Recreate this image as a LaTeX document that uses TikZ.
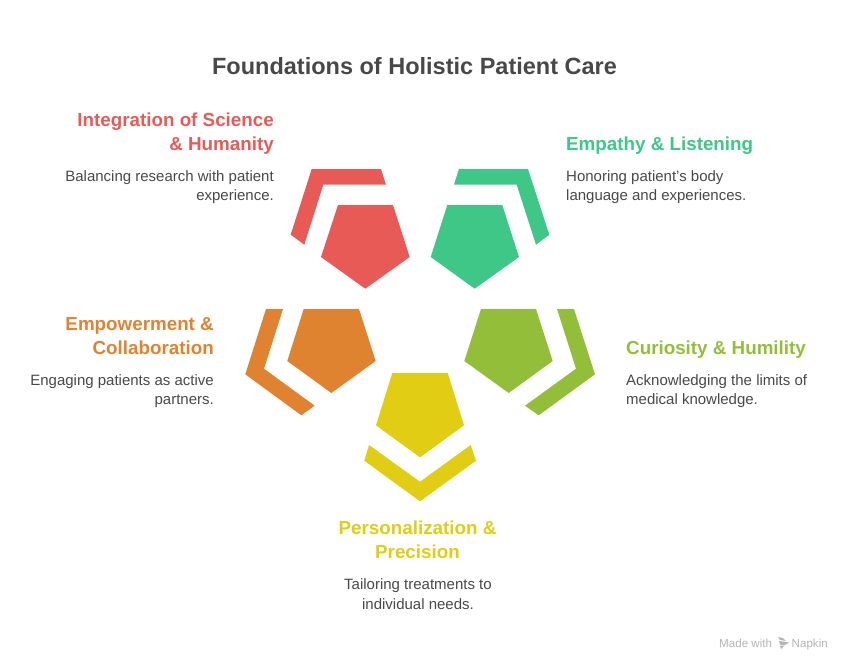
\documentclass[tikz,border=0pt]{standalone}
\usepackage{fontspec}
\setmainfont{Liberation Sans}
\usepackage{xcolor}
\definecolor{redc}{HTML}{E85A55}
\definecolor{greenc}{HTML}{3EC787}
\definecolor{orangec}{HTML}{DF8330}
\definecolor{limec}{HTML}{93BE3A}
\definecolor{yellowc}{HTML}{E0CD14}
\definecolor{textc}{HTML}{484848}
\definecolor{markc}{HTML}{B4B4B4}
\tikzset{
  head/.style={inner sep=0pt,font=\fontsize{18.8}{24}\selectfont\bfseries},
  body/.style={inner sep=0pt,text=textc,font=\fontsize{15}{19.5}\selectfont},
}
\begin{document}
\begin{tikzpicture}[x=1pt,y=-1pt]
\useasboundingbox (0,0) rectangle (852,670);
\node [inner sep=0pt,text=textc,font=\fontsize{23.5}{28}\selectfont\bfseries] (title) at (414.5,66) {Foundations of Holistic Patient Care};
% red
\fill [redc] (338,205) -- (393,205) -- (409.7,257) -- (365.3,288.7) -- (321,257) -- cycle;
\fill [redc] (311.7,169) -- (381,169) -- (386,184.7) -- (323.3,184.7) -- (304.3,244.7) -- (290.7,234.7) -- cycle;
\node [head,text=redc,anchor=north east,align=right] (scienceh) at (274,113) {Integration of Science\\\& Humanity};
\node [body,anchor=north east,align=right] (sciencet) at (274,170) {Balancing research with patient\\experience.};
% green
\fill [greenc] (447.3,205) -- (502.3,205) -- (519,257) -- (474.7,288.7) -- (430.7,257) -- cycle;
\fill [greenc] (459,169) -- (528,169) -- (549.3,234.7) -- (536,244.7) -- (516.7,184.7) -- (454,184.7) -- cycle;
\node [head,text=greenc,anchor=north west,align=left] (empathyh) at (566,137) {Empathy \& Listening};
\node [body,anchor=north west,align=left] (empathyt) at (566,170) {Honoring patient's body\\language and experiences.};
% orange
\fill [orangec] (303.7,309) -- (359,309) -- (375.7,361) -- (331.3,393) -- (287.3,361) -- cycle;
\fill [orangec] (266,309) -- (283,309) -- (264,368.7) -- (314.7,405.7) -- (301.3,415.3) -- (245.3,374.3) -- cycle;
\node [head,text=orangec,anchor=north east,align=right] (powerh) at (214,317) {Empowerment \&\\Collaboration};
\node [body,anchor=north east,align=right] (powert) at (214,374) {Engaging patients as active\\partners.};
% lime
\fill [limec] (481,309) -- (536,309) -- (552.7,361) -- (508.7,393) -- (464.3,361) -- cycle;
\fill [limec] (557,309) -- (574,309) -- (595,374.3) -- (538.7,415.3) -- (525,405.7) -- (576,368.7) -- cycle;
\node [head,text=limec,anchor=north west,align=left] (curioh) at (626,341) {Curiosity \& Humility};
\node [body,anchor=north west,align=left] (curiot) at (626,374) {Acknowledging the limits of\\medical knowledge.};
% yellow
\fill [yellowc] (392.3,373) -- (447.7,373) -- (464,425.3) -- (420,457.3) -- (376,425.3) -- cycle;
\fill [yellowc] (369,445) -- (420,481.7) -- (470.7,445) -- (476,460.7) -- (420,501.3) -- (364.3,460.7) -- cycle;
\node [head,text=yellowc,anchor=north,align=center] (persoh) at (417.5,521) {Personalization \&\\Precision};
\node [body,anchor=north,align=center] (persot) at (418,578.5) {Tailoring treatments to\\individual needs.};
% mark
\node [inner sep=0pt,text=markc,anchor=base west,font=\fontsize{11.6}{13}\selectfont] (madewith) at (719,647) {Made with};
\node [inner sep=0pt,text=markc,anchor=base west,font=\fontsize{11.6}{13}\selectfont] (napkin) at (791.5,647) {Napkin};
\fill [markc] (778,637) -- (783,638) -- (786,641) -- (780,640) -- cycle;
\fill [markc] (779,641) -- (789,642.5) -- (784,645.5) -- (780,644.5) -- cycle;
\fill [markc] (780,645.5) -- (784,646) -- (781,649) -- cycle;
\end{tikzpicture}
\end{document}
